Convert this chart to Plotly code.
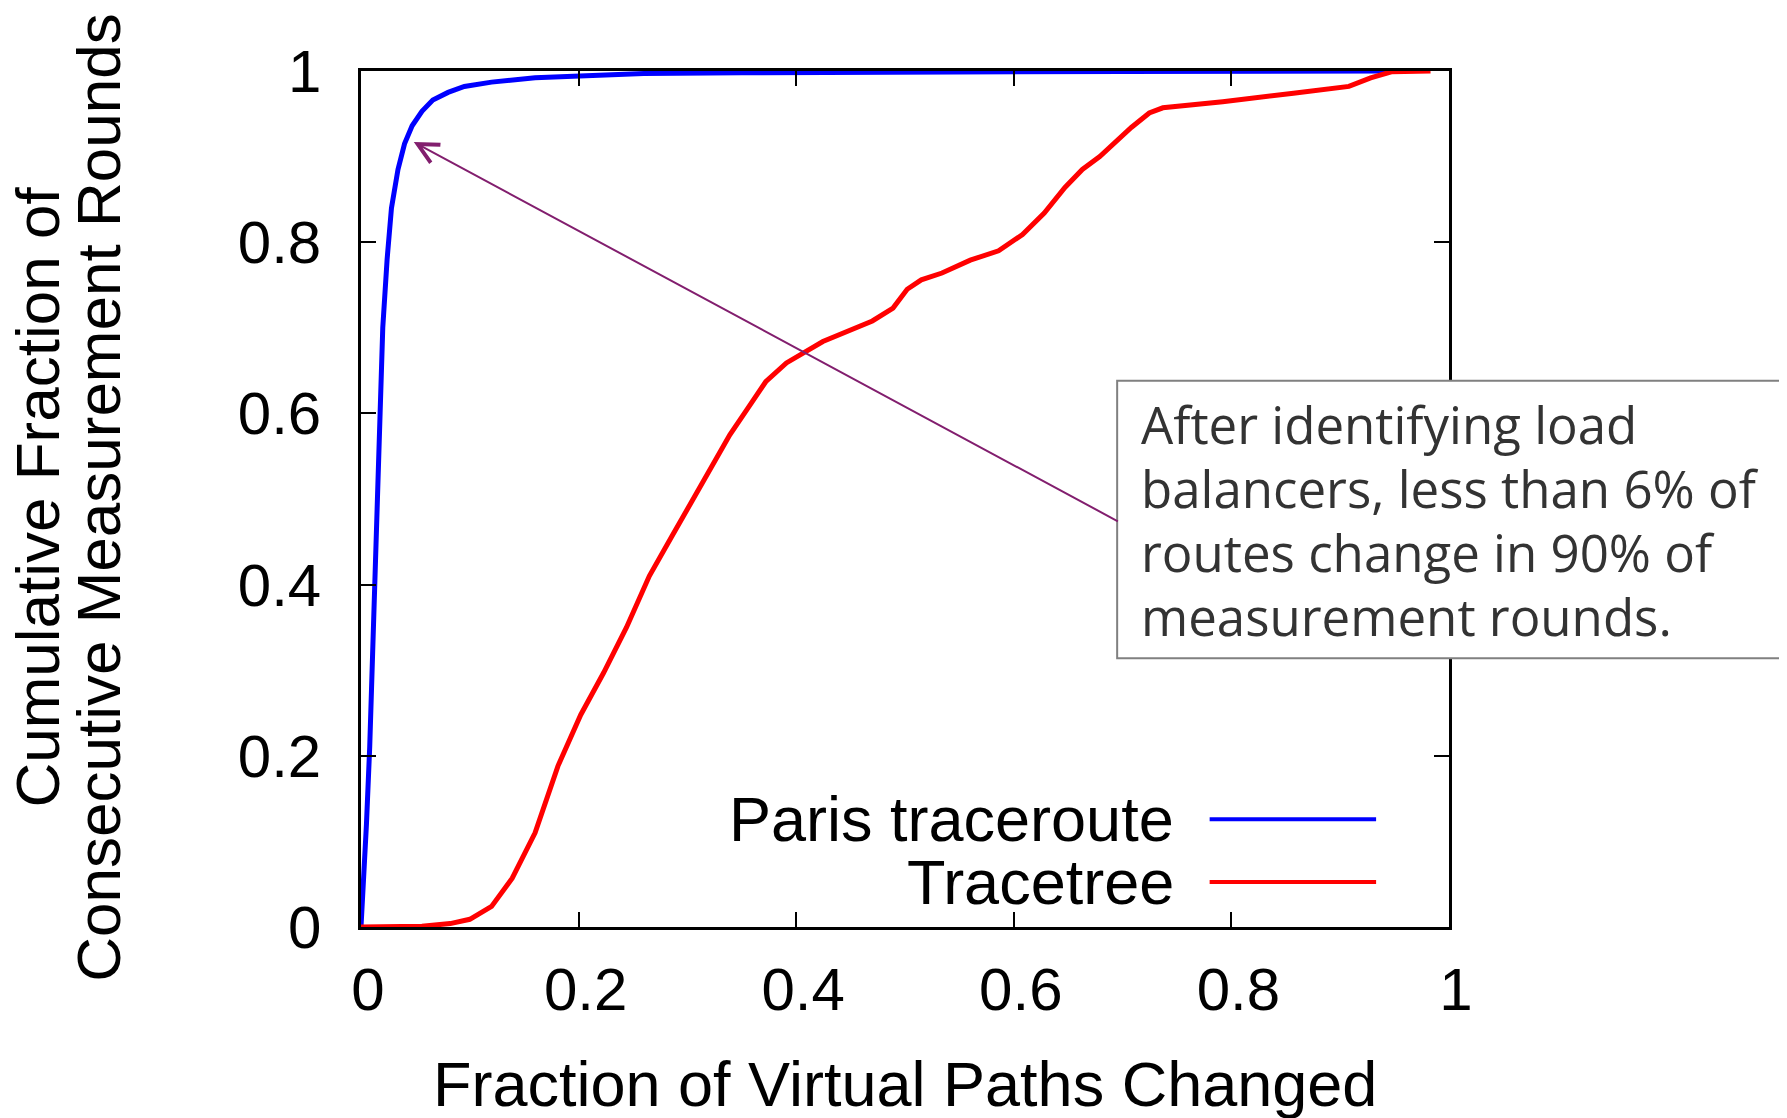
import plotly.graph_objects as go

# ---- data ----
paris_x = [0, 0.002, 0.005, 0.008, 0.011, 0.014, 0.017, 0.020, 0.024, 0.028, 0.034, 0.040,
           0.047, 0.056, 0.066, 0.080, 0.095, 0.12, 0.16, 0.20, 0.26, 0.35, 0.50, 0.70, 0.944]
paris_y = [0, 0.04, 0.12, 0.21, 0.33, 0.46, 0.60, 0.70, 0.78, 0.84, 0.885, 0.915,
           0.936, 0.953, 0.966, 0.975, 0.982, 0.987, 0.992, 0.994, 0.997, 0.998, 0.999, 0.9995, 1.0]

tree_x = [0, 0.056, 0.082, 0.10, 0.12, 0.139, 0.16, 0.181, 0.202, 0.223, 0.244, 0.265, 0.286,
          0.318, 0.339, 0.355, 0.372, 0.391, 0.402, 0.4245, 0.47, 0.489, 0.502, 0.515, 0.534,
          0.56, 0.586, 0.608, 0.628, 0.647, 0.663, 0.679, 0.708, 0.7245, 0.737, 0.792, 0.857,
          0.908, 0.928, 0.947, 0.983]
tree_y = [0, 0.001, 0.004, 0.009, 0.024, 0.057, 0.11, 0.188, 0.248, 0.297, 0.35, 0.41, 0.457,
          0.53, 0.575, 0.605, 0.637, 0.659, 0.667, 0.684, 0.708, 0.723, 0.745, 0.756, 0.764,
          0.779, 0.79, 0.809, 0.834, 0.864, 0.885, 0.90, 0.934, 0.951, 0.957, 0.964, 0.974,
          0.982, 0.992, 0.999, 1.0]

series_names = ["Paris traceroute", "Tracetree"]
series_colors = ["#0000ff", "#ff0000"]
tick_vals = [0, 0.2, 0.4, 0.6, 0.8, 1]
tick_text = ["0", "0.2", "0.4", "0.6", "0.8", "1"]
x_title = "Fraction of Virtual Paths Changed"
y_title_lines = ["Cumulative Fraction of", "Consecutive Measurement Rounds"]
note_lines = ["After identifying load", "balancers, less than 6% of",
              "routes change in 90% of", "measurement rounds."]

FONT = "Liberation Sans, Arial, sans-serif"

fig = go.Figure()
fig.add_trace(go.Scatter(x=paris_x, y=paris_y, mode="lines", name=series_names[0],
                         line=dict(color=series_colors[0], width=5), showlegend=False))
fig.add_trace(go.Scatter(x=tree_x, y=tree_y, mode="lines", name=series_names[1],
                         line=dict(color=series_colors[1], width=5), showlegend=False))

axis_common = dict(range=[0, 1], tickvals=tick_vals, ticktext=tick_text, showgrid=False,
                   zeroline=False, showline=True, linecolor="black", linewidth=2.5,
                   mirror="ticks", ticks="inside", ticklen=15, tickwidth=2, tickcolor="black",
                   tickfont=dict(family=FONT, size=60, color="black"))
fig.update_xaxes(**axis_common, ticklabelstandoff=8, ticklabelshift=7)
fig.update_yaxes(**axis_common, ticklabelstandoff=25)

annotations = []
# axis titles
annotations.append(dict(text=x_title, xref="paper", yref="paper", x=0.5, y=-0.183,
                        xanchor="center", yanchor="middle", showarrow=False,
                        font=dict(family=FONT, size=63, color="black")))
for i, (xp, line) in enumerate(zip([-0.2975, -0.2413], y_title_lines)):
    annotations.append(dict(text=line, xref="paper", yref="paper", x=xp, y=0.502,
                            xanchor="center", yanchor="middle", textangle=-90, showarrow=False,
                            font=dict(family=FONT, size=62, color="black")))

# legend (text right, line sample left)
leg_y = [0.126, 0.0526]
shapes = []
for name, col, ly in zip(series_names, series_colors, leg_y):
    annotations.append(dict(text=name, xref="paper", yref="paper", x=0.7495, y=ly,
                            xanchor="right", yanchor="middle", showarrow=False,
                            font=dict(family=FONT, size=63, color="black")))
    shapes.append(dict(type="line", xref="paper", yref="paper", x0=0.78, x1=0.933, y0=ly, y1=ly,
                       line=dict(color=col, width=4)))

# callout box
shapes.append(dict(type="rect", xref="paper", yref="paper", x0=0.695, x1=1.4, y0=0.314, y1=0.638,
                   line=dict(color="#808080", width=2), fillcolor="white", layer="above"))
note_y = [0.588, 0.513, 0.438, 0.363]
for line, ny in zip(note_lines, note_y):
    annotations.append(dict(text=line, xref="paper", yref="paper", x=0.7155, y=ny,
                            xanchor="left", yanchor="middle", showarrow=False,
                            font=dict(family="Open Sans, sans-serif", size=51, color="#333333")))

# arrow
annotations.append(dict(text="", x=0.0485, y=0.917, xref="x", yref="y",
                        ax=0.697, ay=0.473, axref="x", ayref="y", showarrow=True,
                        arrowhead=5, arrowsize=2, arrowwidth=2, arrowcolor="#821e6e"))

fig.update_layout(width=1779, height=1110, plot_bgcolor="white", paper_bgcolor="white",
                  margin=dict(l=353, r=338, t=63, b=191), showlegend=False,
                  annotations=annotations, shapes=shapes)

fig.write_html("out.html")
